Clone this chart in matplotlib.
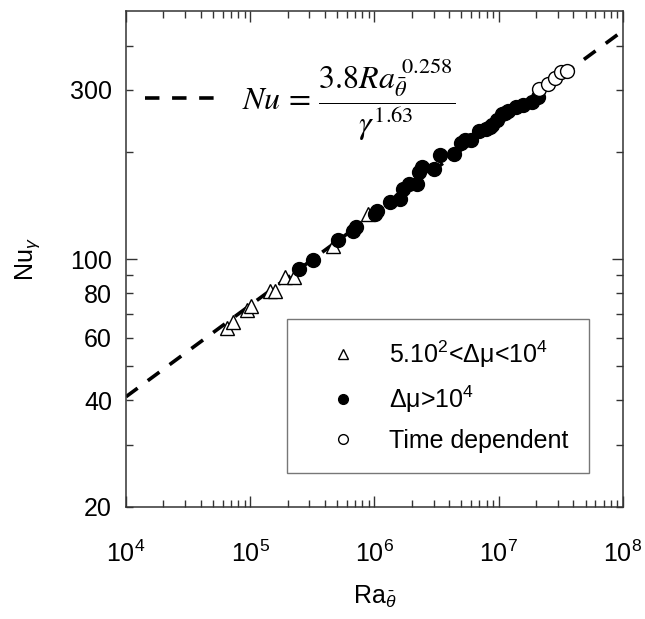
import numpy as np
import matplotlib
matplotlib.use('Agg')
import matplotlib.pyplot as plt
from matplotlib.ticker import FixedLocator, FuncFormatter, LogFormatterMathtext, LogLocator, NullFormatter

plt.rcParams['font.family'] = ['Liberation Sans', 'DejaVu Sans']
plt.rcParams['mathtext.fontset'] = 'custom'
plt.rcParams['mathtext.rm'] = 'Liberation Sans'
plt.rcParams['mathtext.it'] = 'Liberation Sans:italic'

# 5.10^2 < dmu < 10^4 (open triangles)
ra_tri = [6.5e4, 7.3e4, 9.4e4, 1.01e5, 1.44e5, 1.58e5, 1.90e5, 2.25e5, 4.66e5, 8.9e5]
nu_tri = [64, 66.5, 72, 73.5, 81.5, 81.5, 89, 89, 109, 134]

# dmu > 10^4 (filled circles)
ra_big = [2.47e5, 3.21e5, 5.12e5, 6.68e5, 7.1e5, 1.01e6, 1.04e6, 1.33e6, 1.6e6,
          1.71e6, 1.88e6, 2.19e6, 2.30e6, 2.41e6, 3.03e6, 3.37e6, 4.33e6, 4.93e6,
          5.35e6, 6.01e6, 7.0e6, 7.97e6, 8.5e6, 8.8e6, 9.64e6, 1.06e7, 1.12e7,
          1.19e7, 1.39e7, 1.57e7, 1.84e7, 2.08e7]
nu_big = [93.5, 99.3, 113.5, 120, 123, 134, 137, 145, 148,
          158, 163, 163, 176, 182, 179, 197, 198, 212,
          217, 216, 229, 232, 236, 238, 247, 256, 258,
          261, 268, 271, 277, 286]

# time dependent (open circles)
ra_td = [2.11e7, 2.5e7, 2.84e7, 3.16e7, 3.52e7]
nu_td = [302, 312, 323, 337, 340]

# fit Nu = 3.8 Ra^0.258
fit_coef = 3.8
fit_exp = 0.258

fig = plt.figure(figsize=(6.45, 6.19), dpi=100)
ax = fig.add_axes([0.1953, 0.181, 0.7705, 0.801])

ra_fit = np.logspace(4, 8, 200)
ax.plot(ra_fit, fit_coef * ra_fit ** fit_exp, color='black', lw=2.6,
        dashes=(4, 3.5), zorder=1)

ax.plot(ra_tri, nu_tri, ls='none', marker='^', ms=10, mfc='white', mec='black',
        mew=1.0, zorder=3)
ax.plot(ra_big, nu_big, ls='none', marker='o', ms=10, mfc='black', mec='black',
        zorder=3)
ax.plot(ra_td, nu_td, ls='none', marker='o', ms=10, mfc='white', mec='black',
        mew=1.0, zorder=3)

ax.set_xscale('log')
ax.set_yscale('log')
ax.set_xlim(1e4, 1e8)
ax.set_ylim(20, 500)

ax.xaxis.set_major_locator(LogLocator(base=10))
ax.xaxis.set_major_formatter(LogFormatterMathtext())
ax.xaxis.set_minor_locator(LogLocator(base=10, subs=np.arange(2, 10)))
ax.xaxis.set_minor_formatter(NullFormatter())

y_labeled = [20, 40, 60, 80, 300]
ax.yaxis.set_major_locator(FixedLocator([100]))
ax.yaxis.set_major_formatter(FuncFormatter(lambda v, p: '%d' % v))
ax.yaxis.set_minor_locator(FixedLocator([20, 30, 40, 50, 60, 70, 80, 90, 200, 300, 400]))
ax.yaxis.set_minor_formatter(FuncFormatter(lambda v, p: '%d' % v if int(round(v)) in y_labeled else ''))

ax.tick_params(which='both', direction='in', top=True, right=True, labelsize=18,
               color='#333333', width=1.0)
ax.tick_params(which='major', length=8, pad=10)
ax.tick_params(which='minor', length=5, pad=10)
ax.tick_params(axis='x', which='major', pad=24)

for s in ax.spines.values():
    s.set_linewidth(1.1)
    s.set_color('#333333')

ax.set_xlabel(r'Ra$_{\bar{\theta}}$', fontsize=18, labelpad=12)
ax.set_ylabel(r'Nu$_{\gamma}$', fontsize=18, labelpad=20)

# equation with a dashed line sample
ax.plot([1.42e4, 6.4e4], [284, 284], color='black', lw=2.6, dashes=(4, 3.5))
ax.text(0.233, 0.823, r'$Nu\,=\,\dfrac{3.8Ra_{\bar{\theta}}^{\ 0.258}}{\gamma^{1.63}}$',
        transform=ax.transAxes, fontsize=23, math_fontfamily='stix', va='center')

h_tri, = ax.plot([], [], ls='none', marker='^', ms=7, mfc='white', mec='black')
h_big, = ax.plot([], [], ls='none', marker='o', ms=7, mfc='black', mec='black')
h_td, = ax.plot([], [], ls='none', marker='o', ms=7, mfc='white', mec='black')
leg = ax.legend([h_tri, h_big, h_td],
                ['5.10$^2$<Δμ<10$^4$', 'Δμ>10$^4$', 'Time dependent'],
                loc='lower left', bbox_to_anchor=(0.324, 0.0685), fontsize=18,
                frameon=True, fancybox=False, edgecolor='#555555',
                borderpad=0.8, labelspacing=0.55, handletextpad=0.4,
                handlelength=2.9, borderaxespad=0)
leg.get_frame().set_linewidth(1.0)

fig.savefig('out.png', dpi=100)
